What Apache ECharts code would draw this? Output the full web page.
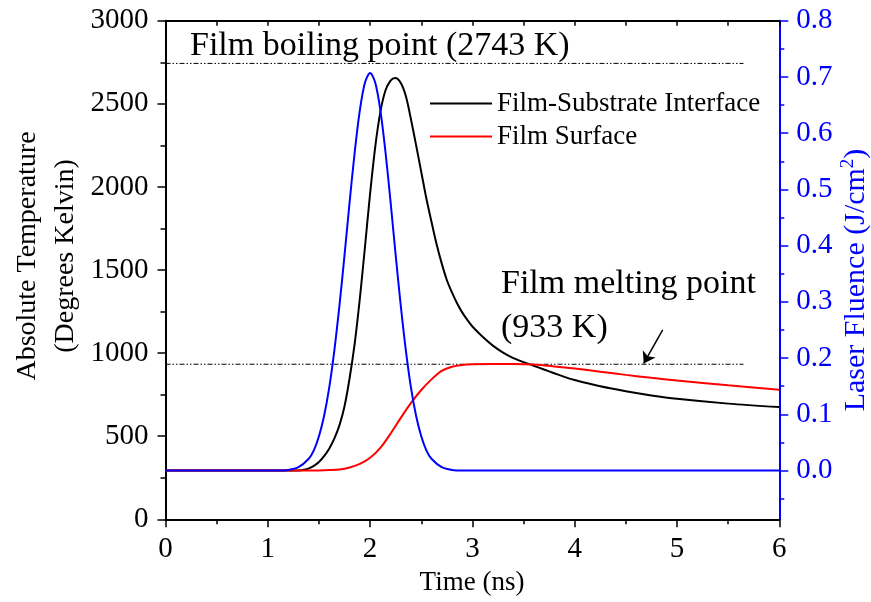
<!DOCTYPE html>
<html>
<head>
<meta charset="utf-8">
<script src="https://cdn.jsdelivr.net/npm/echarts@6/dist/echarts.min.js"></script>
<style>
  html, body { margin: 0; padding: 0; background: #fff; }
  #chart { width: 871px; height: 602px; }
</style>
</head>
<body>
<div id="chart"></div>
<script>
// Time grid (ns) and temperatures (K) for the film-substrate interface
const interfaceTime = [0, 1.0, 1.2, 1.3, 1.35, 1.4, 1.45, 1.5, 1.55, 1.6, 1.65, 1.7, 1.75, 1.8, 1.85, 1.9, 1.95, 2.0, 2.05, 2.1, 2.15, 2.2, 2.245, 2.3, 2.35, 2.4, 2.45, 2.5, 2.55, 2.6, 2.65, 2.7, 2.75, 2.8, 2.85, 2.9, 2.95, 3.0, 3.1, 3.2, 3.3, 3.4, 3.5, 3.6, 3.7, 3.8, 3.9, 4.0, 4.25, 4.5, 4.75, 5.0, 5.5, 6.0];
const interfaceTemp = [293, 293, 293, 294, 298, 306, 322, 345, 380, 425, 485, 565, 680, 850, 1060, 1330, 1640, 1960, 2240, 2450, 2580, 2640, 2655, 2625, 2545, 2405, 2250, 2090, 1930, 1790, 1655, 1540, 1440, 1365, 1300, 1245, 1200, 1160, 1098, 1045, 1003, 970, 946, 924, 901, 879, 857, 838, 800, 770, 745, 725, 696, 675];

// Film surface temperature (K)
const surfaceTime = [0, 1.0, 1.4, 1.5, 1.6, 1.7, 1.8, 1.9, 2.0, 2.1, 2.2, 2.3, 2.4, 2.5, 2.6, 2.7, 2.8, 2.9, 3.0, 3.2, 3.4, 3.6, 3.8, 4.0, 4.25, 4.5, 4.75, 5.0, 5.5, 6.0];
const surfaceTemp = [293, 293, 293, 294, 296, 300, 312, 333, 370, 430, 515, 610, 700, 778, 842, 893, 918, 929, 933, 934, 934, 931, 920, 907, 888, 869, 851, 835, 806, 780];

// Laser fluence pulse (J/cm^2)
const fluenceTime = [0, 1.0, 1.1, 1.2, 1.3, 1.4, 1.45, 1.5, 1.55, 1.6, 1.65, 1.7, 1.75, 1.8, 1.85, 1.9, 1.95, 2.0, 2.05, 2.1, 2.15, 2.2, 2.25, 2.3, 2.35, 2.4, 2.45, 2.5, 2.55, 2.6, 2.7, 2.8, 2.9, 3.0, 6.0];
const fluenceValue = [0, 0, 0, 0.001, 0.006, 0.021, 0.036, 0.061, 0.097, 0.147, 0.213, 0.293, 0.383, 0.478, 0.567, 0.641, 0.690, 0.707, 0.690, 0.641, 0.567, 0.478, 0.383, 0.293, 0.213, 0.147, 0.097, 0.061, 0.036, 0.021, 0.006, 0.001, 0, 0, 0];

// Reference levels (K) and the span of their guide lines (ns)
const boilingPoint = 2743;
const meltingPoint = 933;
const guideSpan = [0, 5.65];
// Arrow pointing at the melting line [time, temperature]
const arrowFrom = [4.86, 1140];
const arrowTo = [4.675, 938];

// Axis tick values
const timeTicks = [0, 1, 2, 3, 4, 5, 6];
const tempTicks = [0, 500, 1000, 1500, 2000, 2500, 3000];
const fluenceTicks = [0, 0.1, 0.2, 0.3, 0.4, 0.5, 0.6, 0.7, 0.8];
const fluenceMinorTicks = [-0.05, 0.05, 0.15, 0.25, 0.35, 0.45, 0.55, 0.65, 0.75];

const baseTemp = 293;
// Fluence axis is offset so that zero fluence sits on the ambient temperature
const fluenceMax = 0.8;
const fluenceMin = -fluenceMax * baseTemp / (tempTicks[tempTicks.length - 1] - baseTemp);

const SERIF = 'Liberation Serif';
const BLUE = '#0000ff';

const zip = (xs, ys) => xs.map((x, i) => [x, ys[i]]);
const guide = (level) => guideSpan.map(t => [t, level]);

const chart = echarts.init(document.getElementById('chart'), null, { renderer: 'canvas' });

const guideStyle = { color: '#000', width: 1, type: [5, 2, 1.5, 2, 1.5, 2] };
const plotBox = { left: 165.5, right: 91.7, top: 20.7, bottom: 82.7, containLabel: false };

chart.setOption({
  animation: false,
  backgroundColor: '#fff',
  // second grid shares the plot box and only carries the minor fluence ticks
  grid: [plotBox, plotBox],
  xAxis: [
    {
      type: 'value', gridIndex: 0, min: timeTicks[0], max: timeTicks[timeTicks.length - 1], interval: 1,
      position: 'bottom',
      axisLine: { onZero: false, lineStyle: { color: '#000', width: 2 } },
      axisTick: { inside: false, length: 8, lineStyle: { color: '#000', width: 1.5 } },
      minorTick: { show: true, splitNumber: 2, length: 5, lineStyle: { color: '#000', width: 1.5 } },
      axisLabel: { margin: 16, color: '#000', fontFamily: SERIF, fontSize: 29 },
      splitLine: { show: false }
    },
    {
      type: 'value', gridIndex: 0, min: timeTicks[0], max: timeTicks[timeTicks.length - 1], interval: 1,
      position: 'top',
      axisLine: { onZero: false, lineStyle: { color: '#000', width: 2 } },
      axisTick: { inside: true, length: 5, lineStyle: { color: '#000', width: 1.5 } },
      minorTick: { show: true, splitNumber: 2, length: 5, lineStyle: { color: '#000', width: 1.5 } },
      axisLabel: { show: false },
      splitLine: { show: false }
    },
    {
      type: 'value', gridIndex: 1, min: timeTicks[0], max: timeTicks[timeTicks.length - 1], show: false
    }
  ],
  yAxis: [
    {
      type: 'value', gridIndex: 0, min: tempTicks[0], max: tempTicks[tempTicks.length - 1], interval: 500,
      position: 'left',
      axisLine: { show: true, onZero: false, lineStyle: { color: '#000', width: 2 } },
      axisTick: { show: true, inside: false, length: 8, lineStyle: { color: '#000', width: 1.5 } },
      minorTick: { show: true, splitNumber: 2, length: 5, lineStyle: { color: '#000', width: 1.5 } },
      axisLabel: { margin: 17, color: '#000', fontFamily: SERIF, fontSize: 29, formatter: v => String(v) },
      splitLine: { show: false }
    },
    {
      type: 'value', gridIndex: 0, min: fluenceMin, max: fluenceMax,
      position: 'right',
      axisLine: { show: true, onZero: false, lineStyle: { color: BLUE, width: 2 } },
      axisTick: { show: true, inside: false, length: 9, customValues: fluenceTicks, lineStyle: { color: BLUE, width: 1.5 } },
      axisLabel: {
        margin: 17, color: BLUE, fontFamily: SERIF, fontSize: 29,
        customValues: fluenceTicks,
        formatter: v => v.toFixed(1)
      },
      splitLine: { show: false }
    },
    {
      type: 'value', gridIndex: 1, min: fluenceMin, max: fluenceMax,
      position: 'right',
      axisLine: { show: false, onZero: false },
      axisTick: { show: true, inside: false, length: 5, customValues: fluenceMinorTicks, lineStyle: { color: BLUE, width: 1.5 } },
      axisLabel: { show: false, customValues: fluenceMinorTicks },
      splitLine: { show: false }
    }
  ],
  legend: {
    orient: 'vertical',
    left: 425, top: 85,
    itemWidth: 62, itemHeight: 2, itemGap: 6,
    icon: 'rect',
    selectedMode: false,
    data: ['Film-Substrate Interface', 'Film Surface'],
    textStyle: { fontFamily: SERIF, fontSize: 27, lineHeight: 27, color: '#000', padding: [0, 0, 0, 0] }
  },
  series: [
    {
      name: 'Boiling guide', type: 'line', xAxisIndex: 0, yAxisIndex: 0,
      data: guide(boilingPoint), symbol: 'none', silent: true,
      lineStyle: guideStyle
    },
    {
      name: 'Melting guide', type: 'line', xAxisIndex: 0, yAxisIndex: 0,
      data: guide(meltingPoint), symbol: 'none', silent: true,
      lineStyle: guideStyle
    },
    {
      name: 'Film-Substrate Interface', type: 'line', xAxisIndex: 0, yAxisIndex: 0,
      data: zip(interfaceTime, interfaceTemp),
      smooth: 0.3, symbol: 'none',
      itemStyle: { color: '#000' },
      lineStyle: { color: '#000', width: 2 },
      markLine: {
        silent: true, symbol: ['none', 'arrow'], symbolSize: 11,
        label: { show: false },
        lineStyle: { color: '#000', width: 1.5, type: 'solid' },
        data: [[{ coord: arrowFrom }, { coord: arrowTo }]]
      }
    },
    {
      name: 'Film Surface', type: 'line', xAxisIndex: 0, yAxisIndex: 0,
      data: zip(surfaceTime, surfaceTemp),
      smooth: 0.3, symbol: 'none',
      itemStyle: { color: '#ff0000' },
      lineStyle: { color: '#ff0000', width: 2 }
    },
    {
      name: 'Laser Fluence', type: 'line', xAxisIndex: 0, yAxisIndex: 1,
      data: zip(fluenceTime, fluenceValue),
      smooth: 0.3, symbol: 'none',
      itemStyle: { color: BLUE },
      lineStyle: { color: BLUE, width: 2 }
    },
    {
      name: 'Fluence ticks', type: 'line', xAxisIndex: 2, yAxisIndex: 2,
      data: [], silent: true
    }
  ],
  graphic: [
    {
      type: 'text', x: 190, y: 46, silent: true,
      style: { text: 'Film boiling point (2743 K)', font: '34px ' + SERIF, fill: '#000', align: 'left', verticalAlign: 'middle' }
    },
    {
      type: 'text', x: 501, y: 284, silent: true,
      style: { text: 'Film melting point', font: '34px ' + SERIF, fill: '#000', align: 'left', verticalAlign: 'middle' }
    },
    {
      type: 'text', x: 501, y: 328, silent: true,
      style: { text: '(933 K)', font: '34px ' + SERIF, fill: '#000', align: 'left', verticalAlign: 'middle' }
    },
    {
      type: 'text', x: 28, y: 256, rotation: Math.PI / 2, silent: true,
      style: { text: 'Absolute Temperature', font: '28px ' + SERIF, fill: '#000', align: 'center', verticalAlign: 'middle' }
    },
    {
      type: 'text', x: 66, y: 256, rotation: Math.PI / 2, silent: true,
      style: { text: '(Degrees Kelvin)', font: '28px ' + SERIF, fill: '#000', align: 'center', verticalAlign: 'middle' }
    },
    {
      type: 'text', x: 472, y: 583, silent: true,
      style: { text: 'Time (ns)', font: '27px ' + SERIF, fill: '#000', align: 'center', verticalAlign: 'middle' }
    },
    {
      type: 'text', x: 855, y: 280, rotation: Math.PI / 2, silent: true,
      style: {
        text: '{a|Laser Fluence (J/cm}{s|2}{a|)}',
        align: 'center', verticalAlign: 'middle',
        rich: {
          a: { fontFamily: SERIF, fontSize: 30, lineHeight: 32, fill: BLUE, verticalAlign: 'bottom' },
          s: { fontFamily: SERIF, fontSize: 19, lineHeight: 32, fill: BLUE, verticalAlign: 'top' }
        }
      }
    }
  ]
});
</script>
</body>
</html>
